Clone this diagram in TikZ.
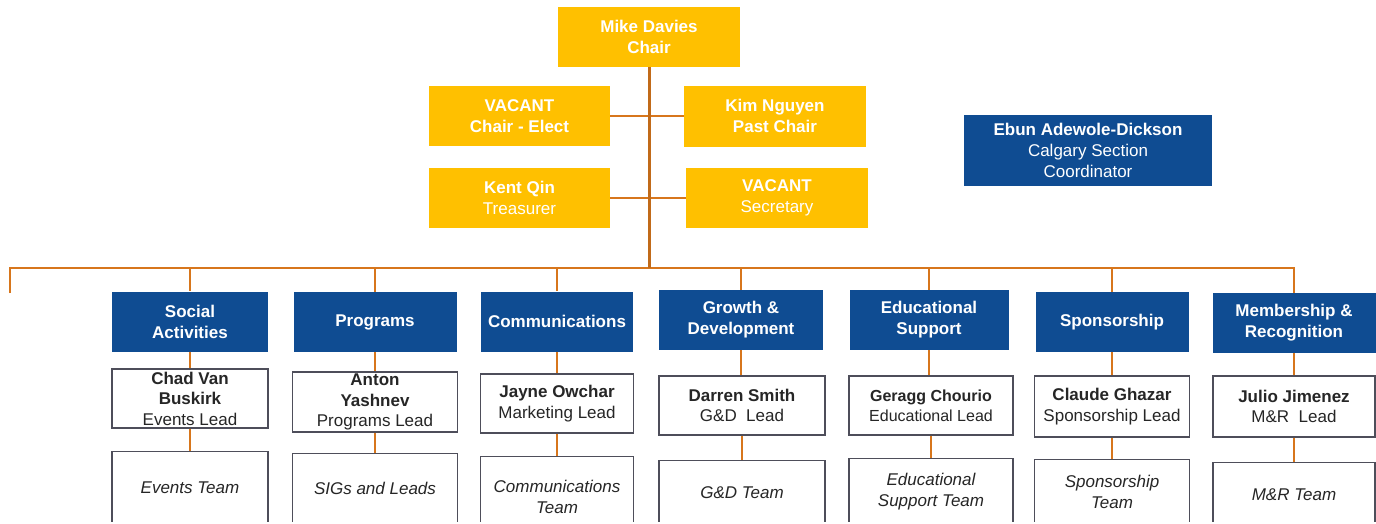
\documentclass[tikz,border=0pt]{standalone}
\usepackage{fontspec}
\setmainfont{Liberation Sans}
\usepackage{xcolor}
\usetikzlibrary{positioning, calc}

\definecolor{gold}{HTML}{FFC000}
\definecolor{navy}{HTML}{0F4C92}
\definecolor{rust}{HTML}{D7761C}
\definecolor{boxgray}{HTML}{4E4E5A}
\definecolor{inkgray}{HTML}{262626}

\begin{document}
\begin{tikzpicture}[x=1pt, y=-1pt]
		\tikzstyle{officer}=[fill=gold, text=white, minimum width=182, minimum height=60, align=center, inner sep=0pt, font=\fontsize{17}{21}\selectfont]
		\tikzstyle{dept}=[fill=navy, text=white, minimum height=60, align=center, inner sep=0pt, font=\fontsize{17}{21}\selectfont\bfseries]
		\tikzstyle{lead}=[draw=boxgray, line width=1.3, fill=white, text=inkgray, minimum height=59, align=center, inner sep=0pt, font=\fontsize{17}{20.5}\selectfont]
		\tikzstyle{team}=[draw=boxgray, line width=1.3, fill=white, text=inkgray, anchor=north, align=center, inner sep=0pt, font=\fontsize{17}{21}\selectfont\itshape]
		\tikzstyle{link}=[draw=rust, line width=1.5]
		\tikzstyle{trunk}=[draw=rust!90!black, line width=3]
		
		\useasboundingbox (0,0) rectangle (1376,523);
		\clip (0,0) rectangle (1376,521.5);
		
		% officers
		\node (chair) at (649,37) [officer] {\textbf{Mike Davies}\\\textbf{Chair}};
		\node (elect) at (519.5,116) [officer, minimum width=181] {\textbf{VACANT}\\\textbf{Chair - Elect}};
		\node (past) at (775,116) [officer, minimum height=61] {\textbf{Kim Nguyen}\\\textbf{Past Chair}};
		\node (treas) at (519.5,198) [officer, minimum width=181] {\textbf{Kent Qin}\\Treasurer};
		\node (secr) at (777,198) [officer] {\textbf{VACANT}\\Secretary};
		
		\node (coord) at (1088,150.5) [officer, fill=navy, minimum width=248, minimum height=71] {\textbf{Ebun Adewole-Dickson}\\Calgary Section\\Coordinator};
		
		% committees
		\node (deptA) at (190,321.5) [dept, minimum width=156] {Social\\Activities};
		\node (deptB) at (375,322) [dept, minimum width=163] {Programs};
		\node (deptC) at (557,321.5) [dept, minimum width=152] {Communications};
		\node (deptD) at (741,320) [dept, minimum width=164] {Growth \&\\Development};
		\node (deptE) at (929,320) [dept, minimum width=159] {Educational\\Support};
		\node (deptF) at (1112,322) [dept, minimum width=153] {Sponsorship};
		\node (deptG) at (1294,323) [dept, minimum width=163] {Membership \&\\Recognition};
		
		% leads
		\node (leadA) at (190,398.5) [lead, minimum width=156] {\textbf{Chad Van}\\\textbf{Buskirk}\\Events Lead};
		\node (leadB) at (375,402) [lead, minimum width=165, minimum height=60] {\textbf{Anton}\\\textbf{Yashnev}\\Programs Lead};
		\node (leadC) at (557,403.5) [lead, minimum width=153] {\textbf{Jayne Owchar}\\Marketing Lead};
		\node (leadD) at (742,405.5) [lead, minimum width=166] {\textbf{Darren Smith}\\G\&D\ \ Lead};
		\node (leadE) at (931,405.5) [lead, minimum width=164, font=\fontsize{16}{20}\selectfont] {\textbf{Geragg Chourio}\\Educational Lead};
		\node (leadF) at (1112,406.5) [lead, minimum width=155, minimum height=61] {\textbf{Claude Ghazar}\\Sponsorship Lead};
		\node (leadG) at (1294,406.5) [lead, minimum width=162, minimum height=61] {\textbf{Julio Jimenez}\\M\&R\ \ Lead};
		
		% teams
		\node (teamA) at (190,451) [team, minimum width=156, minimum height=72] {Events Team};
		\node (teamB) at (375,453) [team, minimum width=165, minimum height=70] {SIGs and Leads};
		\node (teamC) at (557,456) [team, minimum width=153, minimum height=80] {Communications\\Team};
		\node (teamD) at (742,460) [team, minimum width=166, minimum height=64] {G\&D Team};
		\node (teamE) at (931,458) [team, minimum width=164, minimum height=66] {Educational\\Support Team};
		\node (teamF) at (1112,459) [team, minimum width=155, minimum height=64] {Sponsorship\\Team};
		\node (teamG) at (1294,462) [team, minimum width=162, minimum height=64] {M\&R Team};
		
		\coordinate (barL) at (10,268);
		\coordinate (stub) at (10,293);
		
		% connectors
		\draw[link] (elect.east) -- (past.west);
		\draw[link] (treas.east) -- (secr.west);
		\draw[link, line width=2.5] (stub) -- (barL) -- (barL -| deptG.north) -- (deptG.north);
		\draw[trunk] (chair.south) -- (chair.south |- barL);
		\draw[link] (barL -| deptA.north) -- (deptA.north);
		\draw[link] (barL -| deptB.north) -- (deptB.north);
		\draw[link] (barL -| deptC.north) -- (deptC.north);
		\draw[link] (barL -| deptD.north) -- (deptD.north);
		\draw[link] (barL -| deptE.north) -- (deptE.north);
		\draw[link] (barL -| deptF.north) -- (deptF.north);
		
		\draw[link] (deptA.south) -- (deptA.south |- leadA.north) (leadA.south) -- (teamA.north);
		\draw[link] (deptB.south) -- (deptB.south |- leadB.north) (leadB.south) -- (teamB.north);
		\draw[link] (deptC.south) -- (deptC.south |- leadC.north) (leadC.south) -- (teamC.north);
		\draw[link] (deptD.south) -- (deptD.south |- leadD.north) (leadD.south) -- (teamD.north);
		\draw[link] (deptE.south) -- (deptE.south |- leadE.north) (leadE.south) -- (teamE.north);
		\draw[link] (deptF.south) -- (deptF.south |- leadF.north) (leadF.south) -- (teamF.north);
		\draw[link] (deptG.south) -- (deptG.south |- leadG.north) (leadG.south) -- (teamG.north);
		
\end{tikzpicture}
\end{document}
